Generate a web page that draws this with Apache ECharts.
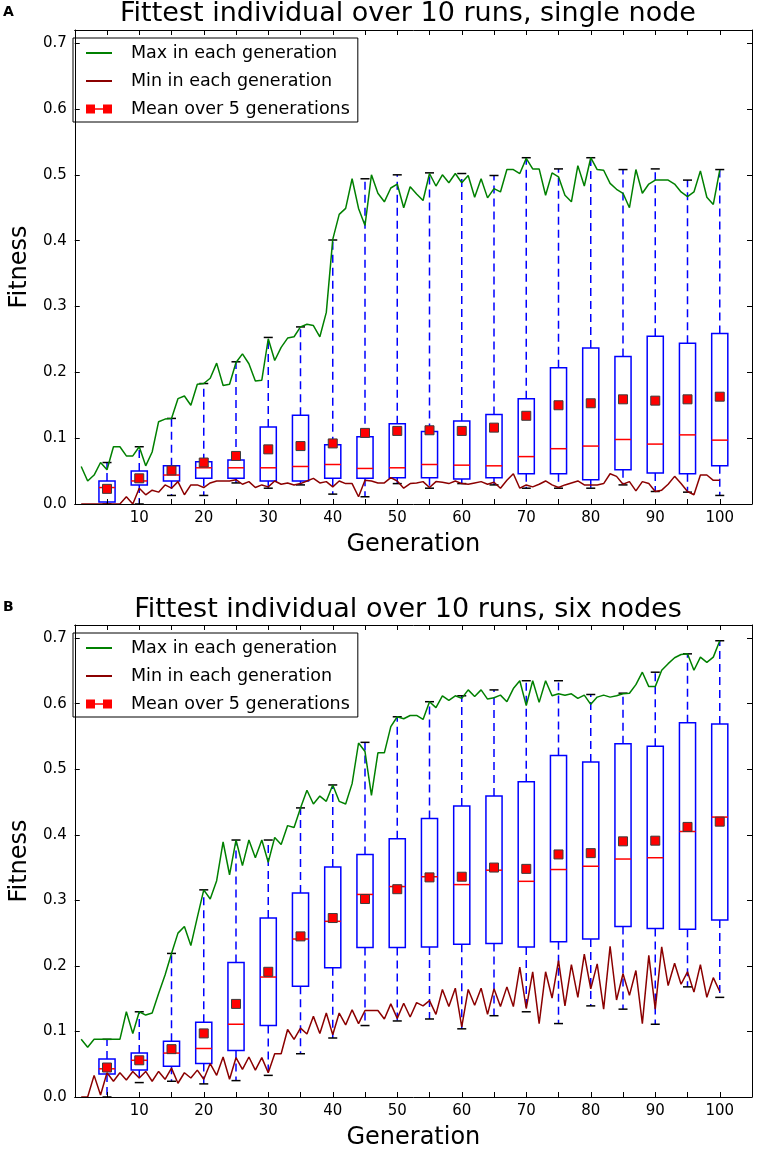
<!DOCTYPE html>
<html>
<head>
<meta charset="utf-8">
<title>Fittest individual over 10 runs</title>
<script src="https://cdn.jsdelivr.net/npm/echarts@6/dist/echarts.min.js"></script>
<style>
    html, body { margin: 0; padding: 0; background: #fff; }
    #chart { width: 758px; height: 1151px; }
</style>
</head>
<body>
<div id="chart"></div>
<script>
// ------------------------------------------------------------ //
// values (generation 1 .. 100)
// ------------------------------------------------------------ //

const maxSingle = [
    0.057, 0.035, 0.044, 0.063, 0.052, 0.087, 0.087, 0.073, 0.073, 0.087,
    0.058, 0.079, 0.125, 0.129, 0.130, 0.160, 0.164, 0.150, 0.182, 0.183,
    0.191, 0.214, 0.180, 0.182, 0.215, 0.228, 0.213, 0.187, 0.188, 0.251,
    0.218, 0.238, 0.252, 0.254, 0.269, 0.273, 0.271, 0.254, 0.291, 0.402,
    0.440, 0.449, 0.494, 0.449, 0.423, 0.500, 0.472, 0.459, 0.480, 0.486,
    0.450, 0.482, 0.471, 0.461, 0.502, 0.483, 0.500, 0.488, 0.502, 0.488,
    0.499, 0.466, 0.494, 0.465, 0.479, 0.474, 0.508, 0.508, 0.502, 0.525,
    0.509, 0.509, 0.469, 0.503, 0.497, 0.469, 0.459, 0.514, 0.483, 0.526,
    0.508, 0.507, 0.487, 0.478, 0.472, 0.450, 0.508, 0.472, 0.486, 0.492,
    0.492, 0.492, 0.486, 0.474, 0.467, 0.474, 0.506, 0.466, 0.455, 0.507
];

const minSingle = [
    0.000, 0.000, 0.000, 0.000, 0.000, 0.000, 0.000, 0.011, 0.000, 0.024,
    0.014, 0.021, 0.018, 0.029, 0.024, 0.034, 0.014, 0.029, 0.029, 0.025,
    0.032, 0.035, 0.035, 0.035, 0.037, 0.030, 0.034, 0.025, 0.029, 0.026,
    0.035, 0.030, 0.032, 0.029, 0.031, 0.035, 0.039, 0.032, 0.034, 0.026,
    0.035, 0.031, 0.031, 0.011, 0.036, 0.035, 0.032, 0.032, 0.040, 0.035,
    0.024, 0.031, 0.032, 0.034, 0.025, 0.034, 0.033, 0.031, 0.035, 0.031,
    0.030, 0.032, 0.034, 0.030, 0.033, 0.024, 0.036, 0.046, 0.024, 0.029,
    0.026, 0.030, 0.035, 0.029, 0.025, 0.029, 0.032, 0.035, 0.029, 0.029,
    0.029, 0.031, 0.046, 0.042, 0.030, 0.034, 0.020, 0.034, 0.031, 0.019,
    0.021, 0.030, 0.042, 0.031, 0.019, 0.014, 0.044, 0.044, 0.036, 0.036
];

const maxSix = [
    0.088, 0.076, 0.088, 0.088, 0.088, 0.088, 0.088, 0.130, 0.097, 0.130,
    0.125, 0.128, 0.158, 0.186, 0.219, 0.250, 0.260, 0.231, 0.274, 0.316,
    0.302, 0.330, 0.389, 0.339, 0.392, 0.353, 0.392, 0.365, 0.392, 0.358,
    0.396, 0.385, 0.414, 0.411, 0.441, 0.468, 0.447, 0.459, 0.451, 0.476,
    0.451, 0.447, 0.478, 0.540, 0.527, 0.460, 0.525, 0.525, 0.565, 0.580,
    0.577, 0.582, 0.582, 0.576, 0.603, 0.594, 0.612, 0.605, 0.612, 0.608,
    0.621, 0.611, 0.621, 0.607, 0.609, 0.613, 0.603, 0.623, 0.635, 0.597,
    0.635, 0.602, 0.635, 0.612, 0.615, 0.613, 0.615, 0.608, 0.613, 0.599,
    0.610, 0.613, 0.610, 0.612, 0.615, 0.616, 0.629, 0.648, 0.626, 0.626,
    0.651, 0.661, 0.670, 0.675, 0.676, 0.651, 0.671, 0.663, 0.671, 0.696
];

const minSix = [
    0.000, 0.000, 0.033, 0.003, 0.037, 0.024, 0.037, 0.026, 0.039, 0.029,
    0.039, 0.024, 0.039, 0.027, 0.044, 0.021, 0.037, 0.029, 0.041, 0.027,
    0.051, 0.033, 0.061, 0.027, 0.060, 0.042, 0.061, 0.041, 0.060, 0.037,
    0.066, 0.066, 0.103, 0.088, 0.105, 0.096, 0.123, 0.097, 0.128, 0.095,
    0.128, 0.110, 0.133, 0.112, 0.132, 0.132, 0.132, 0.119, 0.142, 0.120,
    0.143, 0.122, 0.144, 0.139, 0.147, 0.126, 0.164, 0.138, 0.166, 0.107,
    0.164, 0.140, 0.166, 0.126, 0.165, 0.138, 0.168, 0.138, 0.198, 0.135,
    0.191, 0.112, 0.191, 0.151, 0.208, 0.139, 0.202, 0.152, 0.218, 0.165,
    0.203, 0.134, 0.230, 0.148, 0.188, 0.155, 0.193, 0.112, 0.216, 0.134,
    0.229, 0.170, 0.204, 0.172, 0.191, 0.160, 0.202, 0.152, 0.182, 0.161
];

// boxes every 5 generations
const boxGens = [5, 10, 15, 20, 25, 30, 35, 40, 45, 50, 55, 60, 65, 70, 75, 80, 85, 90, 95, 100];

const loSingle   = [0.000, 0.000, 0.013, 0.013, 0.032, 0.024, 0.029, 0.015, 0.011, 0.031, 0.024, 0.031, 0.029, 0.024, 0.024, 0.024, 0.029, 0.019, 0.018, 0.013];
const q1Single   = [0.003, 0.029, 0.035, 0.039, 0.039, 0.035, 0.035, 0.039, 0.039, 0.040, 0.040, 0.038, 0.040, 0.046, 0.046, 0.037, 0.052, 0.047, 0.046, 0.058];
const medSingle  = [0.025, 0.035, 0.044, 0.055, 0.055, 0.055, 0.057, 0.060, 0.054, 0.055, 0.060, 0.059, 0.058, 0.072, 0.084, 0.088, 0.098, 0.091, 0.105, 0.097];
const q3Single   = [0.035, 0.050, 0.058, 0.064, 0.067, 0.117, 0.135, 0.090, 0.102, 0.122, 0.110, 0.126, 0.136, 0.160, 0.207, 0.237, 0.224, 0.255, 0.244, 0.259];
const hiSingle   = [0.063, 0.087, 0.130, 0.183, 0.216, 0.253, 0.269, 0.401, 0.494, 0.500, 0.503, 0.502, 0.499, 0.526, 0.509, 0.526, 0.508, 0.509, 0.492, 0.508];
const meanSingle = [0.023, 0.039, 0.051, 0.063, 0.073, 0.083, 0.088, 0.092, 0.108, 0.111, 0.112, 0.111, 0.116, 0.134, 0.150, 0.153, 0.159, 0.157, 0.159, 0.163];

const loSix   = [0.000, 0.022, 0.024, 0.020, 0.025, 0.033, 0.066, 0.090, 0.109, 0.116, 0.119, 0.104, 0.124, 0.130, 0.112, 0.139, 0.134, 0.111, 0.168, 0.152];
const q1Six   = [0.035, 0.041, 0.047, 0.051, 0.071, 0.109, 0.169, 0.197, 0.228, 0.228, 0.229, 0.233, 0.234, 0.229, 0.237, 0.241, 0.260, 0.257, 0.256, 0.270];
const medSix  = [0.043, 0.056, 0.067, 0.074, 0.111, 0.183, 0.241, 0.268, 0.309, 0.321, 0.336, 0.324, 0.346, 0.329, 0.347, 0.352, 0.363, 0.365, 0.405, 0.427];
const q3Six   = [0.058, 0.067, 0.085, 0.114, 0.205, 0.273, 0.311, 0.351, 0.370, 0.394, 0.425, 0.444, 0.459, 0.481, 0.521, 0.511, 0.539, 0.535, 0.571, 0.569];
const hiSix   = [0.088, 0.130, 0.219, 0.316, 0.392, 0.392, 0.441, 0.476, 0.541, 0.580, 0.603, 0.612, 0.621, 0.635, 0.635, 0.614, 0.616, 0.648, 0.676, 0.696];
const meanSix = [0.045, 0.056, 0.073, 0.097, 0.142, 0.191, 0.245, 0.273, 0.302, 0.317, 0.335, 0.336, 0.350, 0.348, 0.370, 0.372, 0.390, 0.391, 0.412, 0.420];

const yTicks = [0.0, 0.1, 0.2, 0.3, 0.4, 0.5, 0.6, 0.7];
const xTickLabels = [10, 20, 30, 40, 50, 60, 70, 80, 90, 100];

// ------------------------------------------------------------ //

const FONT = 'DejaVu Sans';
const NAME_MAX = 'Max in each generation';
const NAME_MIN = 'Min in each generation';
const NAME_MEAN = 'Mean over 5 generations';
const BOX_WIDTH = 2.5;   // in generations
const CAP_WIDTH = 1.4;
const MEAN_ICON = 'path://M0,0h9v9h-9z M9,3.8h8v1.4h-8z M17,0h9v9h-9z';

const panels = [
    {
        title: 'Fittest individual over 10 runs, single node', letter: 'A',
        top: 30, height: 474, titleTop: 0, letterTop: 5,
        maxs: maxSingle, mins: minSingle,
        lo: loSingle, q1: q1Single, med: medSingle, q3: q3Single, hi: hiSingle, mean: meanSingle
    },
    {
        title: 'Fittest individual over 10 runs, six nodes', letter: 'B',
        top: 625, height: 476, titleTop: 596, letterTop: 600,
        maxs: maxSix, mins: minSix,
        lo: loSix, q1: q1Six, med: medSix, q3: q3Six, hi: hiSix, mean: meanSix
    }
];

function toPoints (values) {
    return values.map((v, i) => [i + 1, v]);
}

function xAxisFor (gridIndex, position) {
    return {
        type: 'value',
        gridIndex: gridIndex,
        position: position,
        z: 6,
        min: 0,
        max: 105,
        interval: 5,
        name: position === 'bottom' ? 'Generation' : '',
        nameLocation: 'middle',
        nameGap: 29,
        nameTextStyle: {fontFamily: FONT, fontSize: 24, color: '#000'},
        axisLine: {show: true, onZero: false, lineStyle: {color: '#000', width: 1}},
        axisTick: {show: true, inside: true, length: 5, lineStyle: {color: '#000'}},
        axisLabel: {
            show: position === 'bottom',
            margin: 7,
            fontFamily: FONT,
            fontSize: 15,
            color: '#000',
            formatter: (v) => xTickLabels.indexOf(v) >= 0 ? String(v) : ''
        },
        splitLine: {show: false}
    };
}

function yAxisFor (gridIndex, position) {
    return {
        type: 'value',
        gridIndex: gridIndex,
        position: position,
        z: 6,
        min: 0,
        max: 0.72,
        interval: 0.1,
        name: position === 'left' ? 'Fitness' : '',
        nameLocation: 'middle',
        nameGap: 39,
        nameRotate: 90,
        nameTextStyle: {fontFamily: FONT, fontSize: 24, color: '#000'},
        axisLine: {show: true, onZero: false, lineStyle: {color: '#000', width: 1}},
        axisTick: {show: true, inside: true, length: 5, lineStyle: {color: '#000'}},
        axisLabel: {
            show: position === 'left',
            margin: 8,
            fontFamily: FONT,
            fontSize: 15,
            color: '#000',
            formatter: (v) => {
                const hit = yTicks.find((t) => Math.abs(t - v) < 1e-6);
                return hit === undefined ? '' : hit.toFixed(1);
            }
        },
        splitLine: {show: false}
    };
}

function renderBox (params, api) {

    const gen = api.value(0);
    const x = api.coord([gen, 0])[0];
    const yLo  = api.coord([gen, api.value(1)])[1];
    const yQ1  = api.coord([gen, api.value(2)])[1];
    const yMed = api.coord([gen, api.value(3)])[1];
    const yQ3  = api.coord([gen, api.value(4)])[1];
    const yHi  = api.coord([gen, api.value(5)])[1];
    const half = api.size([BOX_WIDTH, 0])[0] / 2;
    const capHalf = api.size([CAP_WIDTH, 0])[0] / 2;

    const dashed = {stroke: '#0000ff', lineWidth: 1.5, lineDash: [8, 5]};
    const cap = {stroke: '#000', lineWidth: 1.5};

    return {
        type: 'group',
        children: [
            {type: 'line', shape: {x1: x, y1: yQ3, x2: x, y2: yHi}, style: dashed},
            {type: 'line', shape: {x1: x, y1: yQ1, x2: x, y2: yLo}, style: dashed},
            {type: 'line', shape: {x1: x - capHalf, y1: yHi, x2: x + capHalf, y2: yHi}, style: cap},
            {type: 'line', shape: {x1: x - capHalf, y1: yLo, x2: x + capHalf, y2: yLo}, style: cap},
            {
                type: 'rect',
                shape: {x: x - half, y: yQ3, width: half * 2, height: yQ1 - yQ3},
                style: {fill: 'rgba(0,0,0,0)', stroke: '#0000ff', lineWidth: 1.5}
            },
            {type: 'line', shape: {x1: x - half, y1: yMed, x2: x + half, y2: yMed}, style: {stroke: '#ff0000', lineWidth: 1.5}}
        ]
    };
}

function legendFor (top) {
    return {
        orient: 'vertical',
        left: 73,
        top: top,
        padding: [6, 8, 4, 12],
        itemGap: 10,
        itemWidth: 26,
        itemHeight: 9,
        align: 'left',
        selectedMode: false,
        borderColor: '#000',
        borderWidth: 1,
        borderRadius: 0,
        backgroundColor: '#fff',
        textStyle: {fontFamily: FONT, fontSize: 17.5, color: '#000', padding: [0, 0, 0, 14]},
        data: [
            {name: NAME_MAX, itemStyle: {opacity: 0}},
            {name: NAME_MIN, itemStyle: {opacity: 0}},
            {name: NAME_MEAN, icon: MEAN_ICON, itemStyle: {borderWidth: 0}}
        ]
    };
}

// ------------------------------------------------------------ //

const option = {
    animation: false,
    backgroundColor: '#fff',
    title: [],
    legend: [],
    grid: [],
    xAxis: [],
    yAxis: [],
    series: []
};

panels.forEach((p, i) => {

    option.title.push({
        text: p.title, left: 408, top: p.titleTop, textAlign: 'center', padding: 0,
        textStyle: {fontFamily: FONT, fontSize: 27, fontWeight: 'normal', color: '#000'}
    });
    option.title.push({
        text: p.letter, left: 3, top: p.letterTop, padding: 0,
        textStyle: {fontFamily: FONT, fontSize: 14, fontWeight: 'bold', color: '#000'}
    });

    option.legend.push(legendFor(p.top + 8));

    option.grid.push({left: 65, right: 6, top: p.top, height: p.height, containLabel: false});

    option.xAxis.push(xAxisFor(i, 'bottom'), xAxisFor(i, 'top'));
    option.yAxis.push(yAxisFor(i, 'left'), yAxisFor(i, 'right'));

    const boxData = boxGens.map((g, k) => [g, p.lo[k], p.q1[k], p.med[k], p.q3[k], p.hi[k]]);
    const meanData = boxGens.map((g, k) => [g, p.mean[k]]);

    option.series.push(
        {
            type: 'custom',
            name: 'boxes',
            xAxisIndex: i * 2,
            yAxisIndex: i * 2,
            renderItem: renderBox,
            clip: true,
            encode: {x: 0, y: [1, 2, 3, 4, 5]},
            data: boxData,
            z: 2
        },
        {
            type: 'line',
            name: NAME_MAX,
            xAxisIndex: i * 2,
            yAxisIndex: i * 2,
            data: toPoints(p.maxs),
            symbol: 'none',
            lineStyle: {color: '#008000', width: 1.5},
            itemStyle: {color: '#008000'},
            z: 3
        },
        {
            type: 'line',
            name: NAME_MIN,
            xAxisIndex: i * 2,
            yAxisIndex: i * 2,
            data: toPoints(p.mins),
            symbol: 'none',
            lineStyle: {color: '#8b0000', width: 1.5},
            itemStyle: {color: '#8b0000'},
            z: 3
        },
        {
            type: 'scatter',
            name: NAME_MEAN,
            xAxisIndex: i * 2,
            yAxisIndex: i * 2,
            data: meanData,
            symbol: 'rect',
            symbolSize: 9,
            itemStyle: {color: '#ff0000', borderColor: '#3c3c3c', borderWidth: 1, opacity: 1},
            z: 4
        }
    );
});

const chart = echarts.init(document.getElementById('chart'), null, {renderer: 'canvas'});
chart.setOption(option);
</script>
</body>
</html>
